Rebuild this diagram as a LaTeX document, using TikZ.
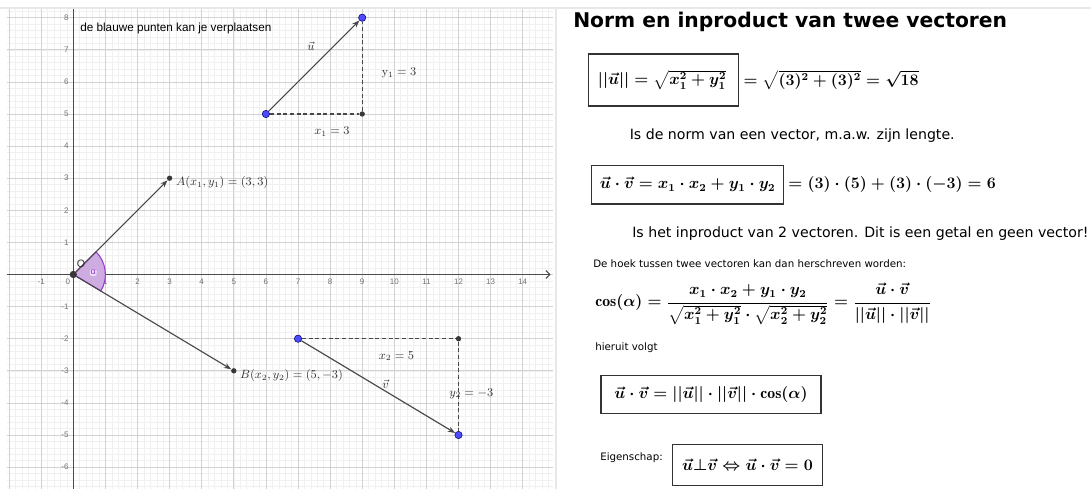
\documentclass[tikz,border=0pt]{standalone}
\usepackage{amsmath, amssymb}
\usepackage{fontspec}
\usepackage{xcolor}
\usepackage{tikz}
\usetikzlibrary{arrows.meta, positioning, calc}

\newfontfamily\webfont{DejaVu Sans}
\newfontfamily\ggbfont{Liberation Sans}
\definecolor{anglefill}{RGB}{206,172,226}
\definecolor{anglestroke}{RGB}{150,60,200}
\definecolor{ptblue}{RGB}{77,77,255}

\begin{document}
\begin{tikzpicture}[
    x=0.75pt, y=-0.75pt,
    gridminor/.style={gray!12, line width=0.35pt},
    gridmajor/.style={gray!35, line width=0.5pt},
    axisline/.style={black!70, line width=0.75pt},
    ticklbl/.style={font=\ggbfont\fontsize{6}{7}\selectfont, text=black!55, inner sep=1pt},
    vecline/.style={black!72, line width=0.85pt, -{Stealth[length=5.5pt, width=4pt]}},
    helpline/.style={black!72, line width=0.85pt, dash pattern=on 3pt off 2pt},
    bluept/.style={circle, fill=ptblue, draw=blue!40!black, line width=0.4pt, inner sep=0pt, minimum size=5.5pt},
    blackpt/.style={circle, fill=black!78, inner sep=0pt, minimum size=4pt},
    ggblbl/.style={font=\fontsize{8.7}{10}\selectfont, text=black!80, inner sep=1pt},
    formbox/.style={draw=black!80, line width=0.9pt, inner sep=0pt, font=\boldmath\fontsize{11.8}{14}\selectfont},
    formula/.style={inner sep=0pt, font=\boldmath\fontsize{11.8}{14}\selectfont},
    bodytxt/.style={font=\webfont\fontsize{10.6}{12}\selectfont, inner sep=0pt, anchor=west},
    smalltxt/.style={font=\webfont\fontsize{7.7}{9}\selectfont, inner sep=0pt, anchor=west}
]
    \useasboundingbox (0,0) rectangle (1091,489);
    \fill[white] (0,0) rectangle (1091,489);
    \draw[gray!18, line width=1.5pt] (0,8) -- (1091,8);
    \draw[gray!18, line width=1.5pt] (556,9) -- (556,489);

    % graph
    \begin{scope}[shift={(73.3,274.5)}, x=24.075pt, y=24.075pt]
        \draw[gridminor] (-2.07,-6.68) grid[step=0.2] (14.93,8.27);
        \draw[gridmajor] (-2.07,-6.68) grid[step=1] (14.93,8.27);
        \draw[axisline, -{Straight Barb[length=3pt, width=6pt]}] (-2.07,0) -- (14.87,0);
        \draw[axisline] (0,-6.68) -- (0,8.27);
        \foreach \i in {-1,1,2,...,14}
            \node[ticklbl, anchor=north] at (\i,-0.1) {\i};
        \node[ticklbl, anchor=north east] at (-0.05,-0.1) {0};
        \foreach \j in {-6,...,-1,1,2,...,8}
            \node[ticklbl, anchor=east] at (-0.1,\j) {\j};

        \filldraw[fill=anglefill, draw=anglestroke, line width=0.8pt] (0,0) -- (-30.96:1) arc[start angle=-30.96, end angle=45, radius=1] -- cycle;

        \node[blackpt, minimum size=5.5pt] (O) at (0,0) {};
        \node[blackpt] (A) at (3,3) {};
        \node[blackpt] (B) at (5,-3) {};
        \node[bluept] (u0) at (6,5) {};
        \node[bluept] (u1) at (9,8) {};
        \node[blackpt] (uc) at (9,5) {};
        \node[bluept] (v0) at (7,-2) {};
        \node[bluept] (v1) at (12,-5) {};
        \node[blackpt] (vc) at (12,-2) {};

        \draw[helpline] (u0) -- (uc);
        \draw[helpline] (uc) -- (u1);
        \draw[helpline] (v0) -- (vc);
        \draw[helpline] (vc) -- (v1);
        \draw[vecline] (O) -- (A);
        \draw[vecline] (O) -- (B);
        \draw[vecline] (u0) -- (u1);
        \draw[vecline] (v0) -- (v1);

        \node[font=\ggbfont\fontsize{8.8}{10}\selectfont, anchor=west, inner sep=0pt] (hint) at (0.21,7.65) {de blauwe punten kan je verplaatsen};
        \node[font=\ggbfont\fontsize{8}{9}\selectfont, text=black!80, inner sep=0pt] (Olbl) at (0.24,0.32) {O};
        \node[font=\ggbfont\fontsize{6.8}{8}\selectfont, text=anglestroke, fill=white, fill opacity=0.6, text opacity=1, rounded corners=1pt, inner sep=0.6pt] (alphalbl) at (0.62,0.06) {α};
        \node[ggblbl, anchor=west] (Albl) at (3.15,2.86) {$A(x_1,y_1) = (3,3)$};
        \node[ggblbl, anchor=west] (Blbl) at (5.15,-3.16) {$B(x_2,y_2) = (5,-3)$};
        \node[ggblbl] (ulbl) at (7.4,7.1) {$\vec{u}$};
        \node[ggblbl] (y1lbl) at (10.15,6.27) {$\mathrm{y}_1 = 3$};
        \node[ggblbl] (x1lbl) at (8.06,4.45) {$x_1 = 3$};
        \node[ggblbl] (x2lbl) at (10.07,-2.54) {$x_2 = 5$};
        \node[ggblbl] (vlbl) at (9.73,-3.41) {$\vec{v}$};
        \node[ggblbl] (y2lbl) at (12.4,-3.72) {$y_2 = -3$};
    \end{scope}

    % text panel
    \node[font=\webfont\bfseries\fontsize{15.2}{18}\selectfont, anchor=west, inner sep=0pt] (title) at (573,22) {Norm en inproduct van twee vectoren};
    \node[formbox, minimum width=113pt, minimum height=39pt] (normbox) at (663.5,80) {$||\vec{u}|| = \sqrt{x_1^2+y_1^2}$\,};
    \node[formula, right=3pt of normbox] (normval) {$= \sqrt{(3)^2+(3)^2} = \sqrt{18}$};
    \node[bodytxt] (normtxt) at (629.5,135.5) {Is de norm van een vector, m.a.w. zijn lengte.};
    \node[formbox, minimum width=144pt, minimum height=29pt] (dotbox) at (687.6,184.7) {$\vec{u}\cdot\vec{v} = x_1\cdot x_2 + y_1\cdot y_2$};
    \node[formula, right=3pt of dotbox] (dotval) {$= (3)\cdot(5) + (3)\cdot(-3) = 6$};
    \node[bodytxt] (dottxt) at (632,234) {Is het inproduct van 2 vectoren. Dit is een getal en geen vector!};
    \node[smalltxt] (hoektxt) at (593,264) {De hoek tussen twee vectoren kan dan herschreven worden:};
    \node[formula, anchor=west] (cosform) at (595,304) {$\cos(\alpha) = \dfrac{x_1\cdot x_2+y_1\cdot y_2}{\sqrt{x_1^2+y_1^2}\cdot\sqrt{x_2^2+y_2^2}} = \dfrac{\vec{u}\cdot\vec{v}}{||\vec{u}||\cdot||\vec{v}||}$};
    \node[smalltxt] (volgttxt) at (595,348) {hieruit volgt};
    \node[formbox, minimum width=165pt, minimum height=29pt] (cosbox) at (711,394.5) {$\vec{u}\cdot\vec{v} = ||\vec{u}||\cdot||\vec{v}||\cdot\cos(\alpha)$};
    \node[smalltxt] (eigtxt) at (600,458) {Eigenschap:};
    \node[formbox, minimum width=113pt, minimum height=31pt] (perpbox) at (747.5,465) {$\vec{u}{\perp}\vec{v} \Leftrightarrow \vec{u}\cdot\vec{v} = 0$};
\end{tikzpicture}
\end{document}
